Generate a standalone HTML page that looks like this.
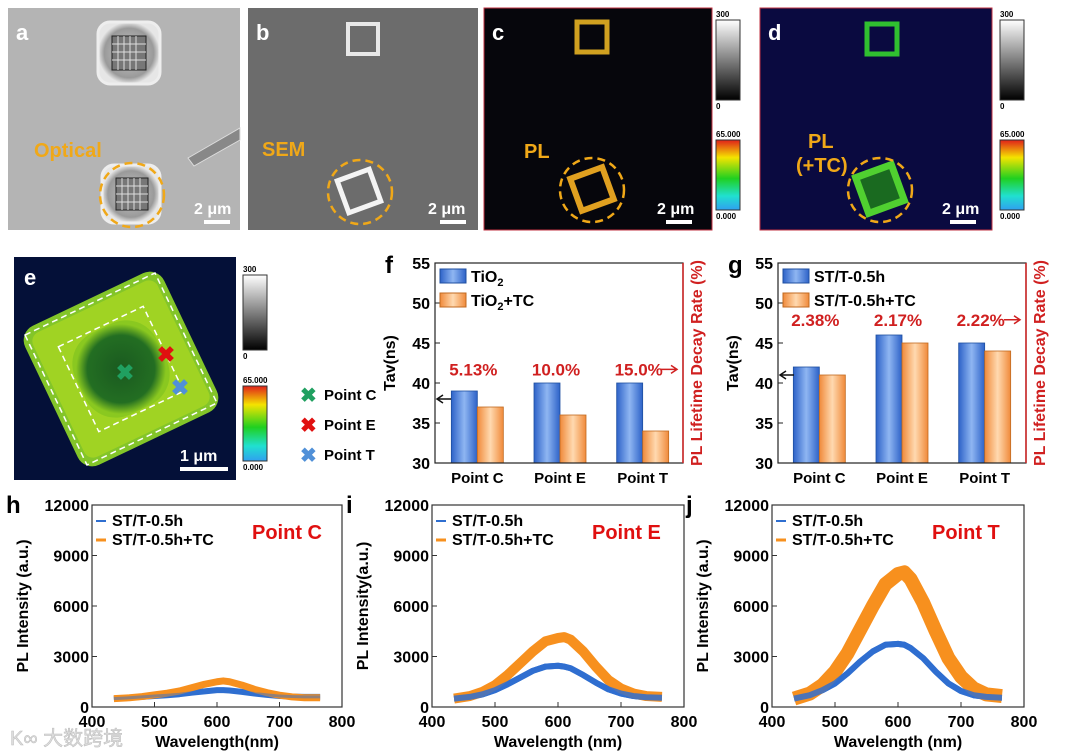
<!DOCTYPE html>
<html><head><meta charset="utf-8"><style>
body{margin:0;background:#fff;}
svg{display:block;font-family:"Liberation Sans","Noto Sans CJK SC",sans-serif;}
</style></head><body>
<svg id="fig" width="1080" height="754" viewBox="0 0 1080 754">
<defs>
<linearGradient id="gBlue" x1="0" x2="1"><stop offset="0" stop-color="#2d62c8"/><stop offset="0.5" stop-color="#8fb6f2"/><stop offset="1" stop-color="#2d62c8"/></linearGradient>
<linearGradient id="gOr" x1="0" x2="1"><stop offset="0" stop-color="#f08a3a"/><stop offset="0.5" stop-color="#ffd9b0"/><stop offset="1" stop-color="#f08a3a"/></linearGradient>
<linearGradient id="gGray" x1="0" y1="0" x2="0" y2="1"><stop offset="0" stop-color="#fff"/><stop offset="1" stop-color="#000"/></linearGradient>
<linearGradient id="gLife" x1="0" y1="0" x2="0" y2="1"><stop offset="0" stop-color="#e0201a"/><stop offset="0.25" stop-color="#f4e400"/><stop offset="0.55" stop-color="#20d020"/><stop offset="0.8" stop-color="#20e0d0"/><stop offset="1" stop-color="#30a0f0"/></linearGradient>
<radialGradient id="gLens" cx="0.5" cy="0.5" r="0.5"><stop offset="0" stop-color="#c8c8c8"/><stop offset="0.8" stop-color="#9a9a9a"/><stop offset="1" stop-color="#e6e6e6"/></radialGradient>
<radialGradient id="gCore" cx="0.5" cy="0.5" r="0.5"><stop offset="0" stop-color="#1a5a20"/><stop offset="0.75" stop-color="#236e22"/><stop offset="1" stop-color="#8ac820"/></radialGradient>
</defs>

<g>
<rect x="8" y="8" width="232" height="222" fill="#b4b4b4"/>
<rect x="98" y="22" width="62" height="62" rx="12" fill="url(#gLens)" stroke="#eee" stroke-width="3"/>
<rect x="112" y="36" width="34" height="34" fill="#777" stroke="#222"/>
<path d="M118 36V70M124 36V70M130 36V70M136 36V70M112 44H146M112 52H146M112 60H146" stroke="#ddd" stroke-width="1"/>
<rect x="102" y="165" width="58" height="58" rx="12" fill="url(#gLens)" stroke="#eee" stroke-width="3"/>
<rect x="116" y="178" width="32" height="32" fill="#777" stroke="#222"/>
<path d="M122 178V210M128 178V210M134 178V210M140 178V210M116 186H148M116 194H148M116 202H148" stroke="#ddd" stroke-width="1"/>
<path d="M188 158 L240 128 L240 140 L194 166 Z" fill="#888" stroke="#ddd"/>
<circle cx="132" cy="195" r="32" fill="none" stroke="#f0a818" stroke-width="2.5" stroke-dasharray="8,5"/>
<text x="16" y="40" font-size="22" font-weight="bold" fill="#fff">a</text>
<text x="34" y="157" font-size="20" font-weight="bold" fill="#f0a818">Optical</text>
<text x="194" y="214" font-size="16" font-weight="bold" fill="#fff">2 μm</text>
<rect x="204" y="220" width="26" height="4" fill="#fff"/>
</g>
<g>
<rect x="248" y="8" width="230" height="222" fill="#6c6c6c"/>
<rect x="348" y="24" width="30" height="30" fill="none" stroke="#e8e8e8" stroke-width="4"/>
<rect x="342" y="174" width="34" height="34" fill="none" stroke="#f4f4f4" stroke-width="5" transform="rotate(-20 359 191)"/>
<circle cx="360" cy="192" r="32" fill="none" stroke="#f0a818" stroke-width="2.5" stroke-dasharray="8,5"/>
<text x="256" y="40" font-size="22" font-weight="bold" fill="#fff">b</text>
<text x="262" y="156" font-size="20" font-weight="bold" fill="#f0a818">SEM</text>
<text x="428" y="214" font-size="16" font-weight="bold" fill="#fff">2 μm</text>
<rect x="440" y="220" width="26" height="4" fill="#fff"/>
</g>
<g>
<rect x="484" y="8" width="228" height="222" fill="#06060c" stroke="#c03040"/>
<rect x="577" y="22" width="30" height="30" fill="none" stroke="#d0a020" stroke-width="5"/>
<rect x="575" y="172" width="34" height="34" fill="none" stroke="#e0a020" stroke-width="6" transform="rotate(-20 592 189)"/>
<circle cx="592" cy="190" r="32" fill="none" stroke="#f0a818" stroke-width="2.5" stroke-dasharray="8,5"/>
<text x="492" y="40" font-size="22" font-weight="bold" fill="#fff">c</text>
<text x="524" y="158" font-size="20" font-weight="bold" fill="#f0a818">PL</text>
<text x="657" y="214" font-size="16" font-weight="bold" fill="#fff">2 μm</text>
<rect x="666" y="220" width="26" height="4" fill="#fff"/>
<rect x="716" y="20" width="24" height="80" fill="url(#gGray)" stroke="#333"/>
<text x="716" y="17" font-size="8" font-weight="bold">300</text><text x="716" y="109" font-size="8" font-weight="bold">0</text>
<rect x="716" y="140" width="24" height="70" fill="url(#gLife)" stroke="#333"/>
<text x="716" y="137" font-size="8" font-weight="bold">65.000</text><text x="716" y="219" font-size="8" font-weight="bold">0.000</text>
</g>
<g>
<rect x="760" y="8" width="232" height="222" fill="#0a0a40" stroke="#c03040"/>
<rect x="867" y="24" width="30" height="30" fill="none" stroke="#30c030" stroke-width="5"/>
<rect x="861" y="170" width="38" height="38" fill="#1a6a20" stroke="#50d030" stroke-width="7" transform="rotate(-20 880 189)"/>
<circle cx="880" cy="190" r="32" fill="none" stroke="#f0a818" stroke-width="2.5" stroke-dasharray="8,5"/>
<text x="768" y="40" font-size="22" font-weight="bold" fill="#fff">d</text>
<text x="808" y="148" font-size="20" font-weight="bold" fill="#f0a818">PL</text>
<text x="796" y="172" font-size="20" font-weight="bold" fill="#f0a818">(+TC)</text>
<text x="942" y="214" font-size="16" font-weight="bold" fill="#fff">2 μm</text>
<rect x="950" y="220" width="26" height="4" fill="#fff"/>
<rect x="1000" y="20" width="24" height="80" fill="url(#gGray)" stroke="#333"/>
<text x="1000" y="17" font-size="8" font-weight="bold">300</text><text x="1000" y="109" font-size="8" font-weight="bold">0</text>
<rect x="1000" y="140" width="24" height="70" fill="url(#gLife)" stroke="#333"/>
<text x="1000" y="137" font-size="8" font-weight="bold">65.000</text><text x="1000" y="219" font-size="8" font-weight="bold">0.000</text>
</g>
<g>
<rect x="14" y="257" width="222" height="223" fill="#041038"/>
<g transform="rotate(-25.5 121 369)">
<rect x="44" y="292" width="154" height="154" rx="16" fill="#8ad028" opacity="0.95"/>
<rect x="52" y="300" width="138" height="138" rx="10" fill="#b4dc20" opacity="0.6"/>
<rect x="76" y="324" width="90" height="90" rx="34" fill="url(#gCore)"/>
<rect x="49" y="297" width="144" height="144" fill="none" stroke="#fff" stroke-width="1.5" stroke-dasharray="6,4"/>
<rect x="74" y="322" width="94" height="94" fill="none" stroke="#fff" stroke-width="1.5" stroke-dasharray="6,4"/>
</g>
<text x="125" y="380" font-size="22" font-weight="bold" fill="#20a060" text-anchor="middle">✖</text>
<text x="166" y="362" font-size="22" font-weight="bold" fill="#e01010" text-anchor="middle">✖</text>
<text x="180" y="395" font-size="22" font-weight="bold" fill="#5090d8" text-anchor="middle">✖</text>
<text x="24" y="285" font-size="22" font-weight="bold" fill="#fff">e</text>
<text x="180" y="461" font-size="16" font-weight="bold" fill="#fff">1 μm</text>
<rect x="180" y="467" width="48" height="4" fill="#fff"/>
<rect x="243" y="275" width="24" height="75" fill="url(#gGray)" stroke="#333"/>
<text x="243" y="272" font-size="8" font-weight="bold">300</text><text x="243" y="359" font-size="8" font-weight="bold">0</text>
<rect x="243" y="386" width="24" height="75" fill="url(#gLife)" stroke="#333"/>
<text x="243" y="383" font-size="8" font-weight="bold">65.000</text><text x="243" y="470" font-size="8" font-weight="bold">0.000</text>
<g font-size="15" font-weight="bold">
<text x="300" y="402" fill="#20a060" font-size="20">✖</text><text x="324" y="400">Point C</text>
<text x="300" y="432" fill="#e01010" font-size="20">✖</text><text x="324" y="430">Point E</text>
<text x="300" y="462" fill="#5090d8" font-size="20">✖</text><text x="324" y="460">Point T</text>
</g>
</g>
<g id="charts"></g>
<text x="10" y="745" font-size="20" fill="#ddd" stroke="#bbb" stroke-width="0.5">K∞ 大数跨境</text>
</svg>
<script>
const barCats = ["Point C","Point E","Point T"];
const fBlue = [39,40,40];
const fOrange = [37,36,34];
const fRates = ["5.13%","10.0%","15.0%"];
const gBlue = [42,46,45];
const gOrange = [41,45,44];
const gRates = ["2.38%","2.17%","2.22%"];
const barTicks = [30,35,40,45,50,55];
const wl = [435,460,480,500,520,540,560,580,600,610,620,640,660,680,700,720,740,765];
const hBlue = [500,550,600,650,700,760,850,930,1000,1000,980,900,800,720,650,620,600,600];
const hOr =   [500,550,620,720,820,950,1150,1350,1500,1550,1500,1300,1050,850,700,600,550,550];
const iBlue = [500,600,750,1000,1350,1750,2150,2400,2450,2400,2300,1900,1450,1050,800,650,580,550];
const iOr =   [500,650,900,1300,1900,2600,3300,3900,4100,4150,4000,3300,2400,1600,1100,800,650,600];
const jBlue = [500,700,1000,1400,2000,2700,3300,3700,3750,3700,3500,2900,2100,1400,950,700,600,550];
const jOr =   [500,800,1300,2100,3200,4600,6000,7300,7900,8000,7600,6200,4500,2900,1800,1100,750,650];
const specXTicks = [400,500,600,700,800];
const specYTicks = [0,3000,6000,9000,12000];

const NS="http://www.w3.org/2000/svg";
const root=document.getElementById('charts');
function mk(tag,attrs,parent,txt){const e=document.createElementNS(NS,tag);for(const k in attrs)e.setAttribute(k,attrs[k]);if(txt!==undefined)e.textContent=txt;(parent||root).appendChild(e);return e;}

function barChart(letter,x0,x1,y0,y1,blue,orange,rates,l1,l2,sub,arrowCat){
  const g=mk('g',{});
  
  
  const ys=v=>y1-(v-30)/(55-30)*(y1-y0);
  const band=(x1-x0)/3;
  const bw=26;
  barCats.forEach((c,i)=>{
    const cx=x0+band*(i+0.5)+(letter==='f'?1:0);
    const b=mk('rect',{x:cx-bw,y:ys(blue[i]),width:bw,height:y1-ys(blue[i]),fill:'url(#gBlue)',stroke:'#1f4fa0','stroke-width':0.8},g);
    
    
    const o=mk('rect',{x:cx,y:ys(orange[i]),width:bw,height:y1-ys(orange[i]),fill:'url(#gOr)',stroke:'#c06a20','stroke-width':0.8},g);
    
    
    mk('text',{x:cx,y:y1+20,'font-size':15,'font-weight':'bold','text-anchor':'middle'},g,c);
    const r=mk('text',{x:cx-4,y:ys(letter==='f'?41.2:47.4)+2,'font-size':17,'font-weight':'bold','text-anchor':'middle',fill:'#d02020'},g,rates[i]);
    
    
  });
  mk('rect',{x:x0,y:y0,width:x1-x0,height:y1-y0,fill:'none',stroke:'#222','stroke-width':1.2},g);
  mk('line',{x1:x1,y1:y0,x2:x1,y2:y1,stroke:'#d02020','stroke-width':1.5},g);
  barTicks.forEach(t=>{
    mk('line',{x1:x0,y1:ys(t),x2:x0+5,y2:ys(t),stroke:'#222'},g);
    mk('text',{x:x0-5,y:ys(t)+6,'font-size':16,'font-weight':'bold','text-anchor':'end'},g,t);
  });
  mk('text',{x:x0-50,y:y0+10,'font-size':24,'font-weight':'bold'},g,letter);
  mk('text',{transform:`translate(${x0-40},${(y0+y1)/2}) rotate(-90)`,'font-size':16,'font-weight':'bold','text-anchor':'middle'},g,'Tav(ns)');
  mk('text',{transform:`translate(${x1+19},${(y0+y1)/2}) rotate(-90)`,'font-size':16,'font-weight':'bold','text-anchor':'middle',fill:'#d02020'},g,'PL Lifetime Decay Rate (%)');
  mk('rect',{x:x0+5,y:y0+6,width:26,height:14,fill:'url(#gBlue)',stroke:'#1f4fa0'},g);
  mk('rect',{x:x0+5,y:y0+30,width:26,height:14,fill:'url(#gOr)',stroke:'#c06a20'},g);
  const t1=mk('text',{x:x0+36,y:y0+19,'font-size':16,'font-weight':'bold'},g,l1);
  const t2=mk('text',{x:x0+36,y:y0+43,'font-size':16,'font-weight':'bold'},g,l2);
  if(sub){t1.innerHTML='TiO<tspan font-size="11" dy="4">2</tspan>';t2.innerHTML='TiO<tspan font-size="11" dy="4">2</tspan><tspan dy="-4">+TC</tspan>';}
  const ay=ys(arrowCat);
  mk('path',{d:`M${x0+16} ${ay} L${x0+2} ${ay} M${x0+8} ${ay-4} L${x0+2} ${ay} L${x0+8} ${ay+4}`,stroke:'#111','stroke-width':1.5,fill:'none'},g);
  const ry=ys(letter==='f'?41.7:47.9);
  mk('path',{d:`M${x1-22} ${ry} L${x1-6} ${ry} M${x1-12} ${ry-4} L${x1-6} ${ry} L${x1-12} ${ry+4}`,stroke:'#d02020','stroke-width':1.5,fill:'none'},g);
}
barChart('f',435,683,263,463,fBlue,fOrange,fRates,'TiO2','TiO2+TC',true,38);
barChart('g',778,1026,263,463,gBlue,gOrange,gRates,'ST/T-0.5h','ST/T-0.5h+TC',false,41);

function spectrum(letter,x0,x1,y0,y1,blue,orange,pt,ylab,xlab){
  const g=mk('g',{});
  
  
  const xs=v=>x0+(v-400)/400*(x1-x0);
  const ys=v=>y1-v/12000*(y1-y0);
  const band=(arr,col,w)=>{
    const pts=wl.map((w,i)=>xs(w)+','+ys(arr[i])).join(' ');
    return mk('polyline',{points:pts,fill:'none',stroke:col,'stroke-width':w,'stroke-linejoin':'round'},g);
  };
  const pb=band(blue,'#2f6fd0',6);
  
  
  const po=band(orange,'#f7901e',letter==='j'?14:(letter==='i'?10:7));
  
  
  const pb2=band(blue,'#2f6fd0',letter==='h'?3:6);
  pb2.setAttribute('opacity',letter==='h'?0.5:0.85);
  
  
  mk('rect',{x:x0,y:y0,width:x1-x0,height:y1-y0,fill:'none',stroke:'#333','stroke-width':1.2},g);
  specXTicks.forEach(t=>{mk('line',{x1:xs(t),y1:y1,x2:xs(t),y2:y1-5,stroke:'#333'},g);mk('text',{x:xs(t),y:y1+20,'font-size':16,'font-weight':'bold','text-anchor':'middle'},g,t);});
  specYTicks.forEach(t=>{mk('line',{x1:x0,y1:ys(t),x2:x0+5,y2:ys(t),stroke:'#333'},g);mk('text',{x:x0-3,y:ys(t)+6,'font-size':16,'font-weight':'bold','text-anchor':'end'},g,t);});
  mk('text',{x:x0-86,y:y0+8,'font-size':24,'font-weight':'bold'},g,letter);
  mk('text',{x:(x0+x1)/2,y:y1+40,'font-size':16,'font-weight':'bold','text-anchor':'middle'},g,xlab);
  mk('text',{transform:`translate(${x0-64},${(y0+y1)/2}) rotate(-90)`,'font-size':16,'font-weight':'bold','text-anchor':'middle'},g,ylab);
  mk('line',{x1:x0+4,y1:y0+16,x2:x0+14,y2:y0+16,stroke:'#2f6fd0','stroke-width':2},g);
  mk('line',{x1:x0+4,y1:y0+35,x2:x0+14,y2:y0+35,stroke:'#f7901e','stroke-width':3},g);
  mk('text',{x:x0+20,y:y0+21,'font-size':16,'font-weight':'bold'},g,'ST/T-0.5h');
  mk('text',{x:x0+20,y:y0+40,'font-size':16,'font-weight':'bold'},g,'ST/T-0.5h+TC');
  mk('text',{x:x0+160,y:y0+34,'font-size':20,'font-weight':'bold',fill:'#e01010'},g,pt);
}
spectrum('h',92,342,505,707,hBlue,hOr,'Point C','PL Intensity (a.u.)','Wavelength(nm)');
spectrum('i',432,684,505,707,iBlue,iOr,'Point E','PL Intensity(a.u.)','Wavelength (nm)');
spectrum('j',772,1024,505,707,jBlue,jOr,'Point T','PL Intensity (a.u.)','Wavelength (nm)');
</script>
</body></html>
